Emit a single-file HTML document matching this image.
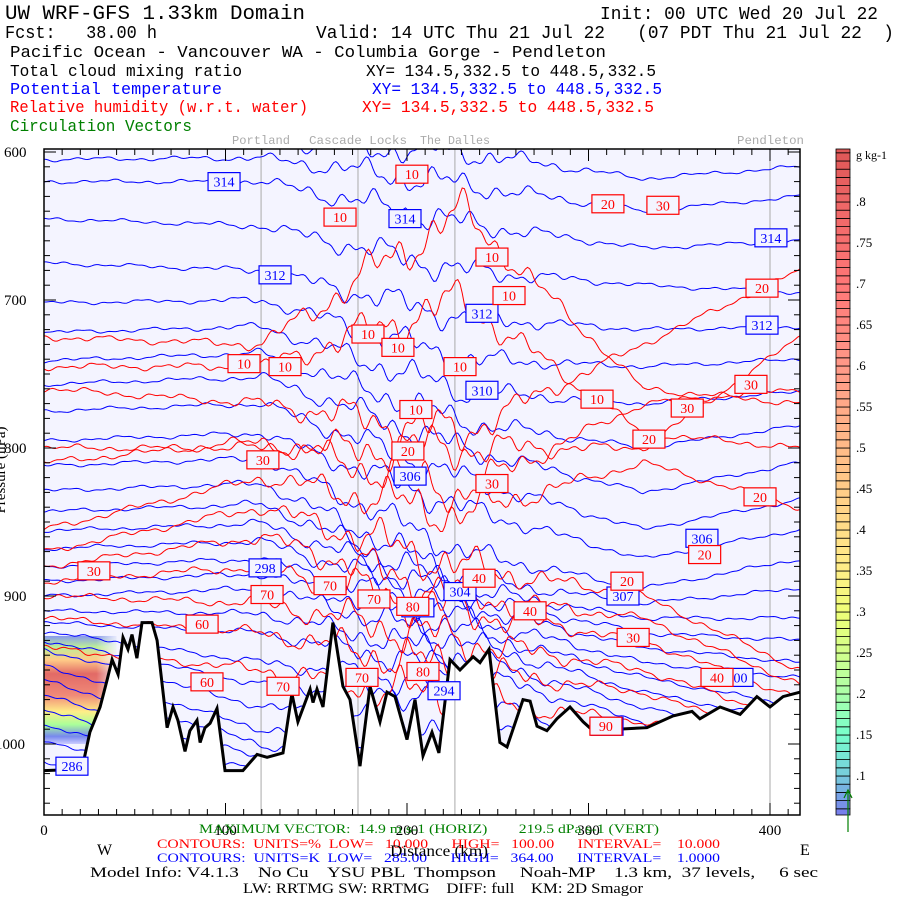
<!DOCTYPE html>
<html><head><meta charset="utf-8"><style>
html,body{margin:0;padding:0;background:#fff;}
svg{display:block;}
text{white-space:pre;}
</style></head><body>
<svg id="chart" width="900" height="900" viewBox="0 0 900 900" xmlns="http://www.w3.org/2000/svg" font-family="'Liberation Mono', monospace">
<defs>
<linearGradient id="cloudGrad" x1="0" y1="0" x2="0" y2="1">
<stop offset="0" stop-color="#8899ee"/><stop offset="0.1" stop-color="#bbee99"/>
<stop offset="0.22" stop-color="#ffcc88"/><stop offset="0.35" stop-color="#e26a66"/>
<stop offset="0.55" stop-color="#f08a78"/><stop offset="0.7" stop-color="#ffee88"/>
<stop offset="0.82" stop-color="#aaff99"/><stop offset="0.93" stop-color="#7788ee"/>
<stop offset="1" stop-color="#ccccff"/></linearGradient>
<linearGradient id="cloudFade" x1="0" y1="0" x2="1" y2="0">
<stop offset="0" stop-color="#fff" stop-opacity="1"/><stop offset="0.7" stop-color="#fff" stop-opacity="1"/><stop offset="1" stop-color="#fff" stop-opacity="0"/></linearGradient>
<mask id="cloudMask"><rect x="44" y="600" width="75" height="160" fill="url(#cloudFade)"/></mask>
<clipPath id="sky"><path id="skyPath" d="M44,149 L800,149 L800,815 L44,815 Z"/></clipPath>
</defs>
<g>
<text x="5" y="19" font-size="20" textLength="300" lengthAdjust="spacingAndGlyphs">UW WRF-GFS 1.33km Domain</text>
<text x="600" y="19" font-size="18" textLength="278" lengthAdjust="spacingAndGlyphs">Init: 00 UTC Wed 20 Jul 22</text>
<text x="5" y="38" font-size="18" textLength="152" lengthAdjust="spacingAndGlyphs">Fcst:   38.00 h</text>
<text x="316" y="38" font-size="18" textLength="578" lengthAdjust="spacingAndGlyphs">Valid: 14 UTC Thu 21 Jul 22   (07 PDT Thu 21 Jul 22  )</text>
<text x="10" y="57" font-size="17" textLength="596" lengthAdjust="spacingAndGlyphs">Pacific Ocean - Vancouver WA - Columbia Gorge - Pendleton</text>
<text x="10" y="76" font-size="17" textLength="232" lengthAdjust="spacingAndGlyphs">Total cloud mixing ratio</text>
<text x="366" y="76" font-size="17" textLength="290" lengthAdjust="spacingAndGlyphs">XY= 134.5,332.5 to 448.5,332.5</text>
<text x="10" y="94" font-size="17" fill="#0000ff" textLength="212" lengthAdjust="spacingAndGlyphs">Potential temperature</text>
<text x="372" y="94" font-size="17" fill="#0000ff" textLength="290" lengthAdjust="spacingAndGlyphs">XY= 134.5,332.5 to 448.5,332.5</text>
<text x="10" y="112" font-size="17" fill="#ff0000" textLength="298" lengthAdjust="spacingAndGlyphs">Relative humidity (w.r.t. water)</text>
<text x="362" y="112" font-size="17" fill="#ff0000" textLength="292" lengthAdjust="spacingAndGlyphs">XY= 134.5,332.5 to 448.5,332.5</text>
<text x="10" y="131" font-size="17" fill="#008000" textLength="182" lengthAdjust="spacingAndGlyphs">Circulation Vectors</text>
</g>
<g fill="#aaaaaa" font-size="12">
<text x="232" y="144" textLength="58" lengthAdjust="spacingAndGlyphs">Portland</text>
<text x="309" y="144" textLength="98" lengthAdjust="spacingAndGlyphs">Cascade Locks</text>
<text x="420" y="144" textLength="70" lengthAdjust="spacingAndGlyphs">The Dalles</text>
<text x="737" y="144" textLength="67" lengthAdjust="spacingAndGlyphs">Pendleton</text>
</g>
<rect x="44" y="149" width="756" height="666" fill="#f4f4ff"/>
<path id="ground" fill="#ffffff"/>
<g id="cloud" clip-path="url(#sky)"></g>
<g id="gray"></g>
<g id="contours" clip-path="url(#sky)" fill="none"></g>
<path id="terrainLine" fill="none" stroke="#000" stroke-width="3"/>
<g id="labels" font-family="'Liberation Serif', serif" font-size="14" text-anchor="middle"></g>
<g id="axes" font-family="'Liberation Serif', serif"></g>
<g id="cbar" font-family="'Liberation Serif', serif"></g>
<g font-family="'Liberation Serif', serif" font-size="13">
<text x="199" y="833" fill="#008000" textLength="460" lengthAdjust="spacingAndGlyphs">MAXIMUM VECTOR:  14.9 m s-1 (HORIZ)        219.5 dPa s-1 (VERT)</text>
<text x="157" y="848" fill="#ff0000" textLength="563" lengthAdjust="spacingAndGlyphs">CONTOURS:  UNITS=%  LOW=   10.000      HIGH=   100.00      INTERVAL=    10.000</text>
<text x="157" y="862" fill="#0000ff" textLength="563" lengthAdjust="spacingAndGlyphs">CONTOURS:  UNITS=K  LOW=   285.00      HIGH=   364.00      INTERVAL=    1.0000</text>
<text x="390" y="856" font-size="16" textLength="98" lengthAdjust="spacingAndGlyphs">Distance (km)</text>
<text x="97" y="855" font-size="16">W</text>
<text x="800" y="855" font-size="16">E</text>
<text x="90" y="877" font-size="15" textLength="728" lengthAdjust="spacingAndGlyphs">Model Info: V4.1.3    No Cu    YSU PBL  Thompson     Noah-MP    1.3 km,  37 levels,     6 sec</text>
<text x="243" y="893" font-size="15" textLength="400" lengthAdjust="spacingAndGlyphs">LW: RRTMG SW: RRTMG    DIFF: full    KM: 2D Smagor</text>
</g>
</svg>
<script>
// ---- data ----
var terrainKm = [0,20.9,25.3,30.9,34.7,37.5,40.8,43.5,46.3,48.5,51.2,54.0,59.5,62.3,67.8,71.1,73.8,77.7,80.4,84.3,86.0,88.7,91.5,95.3,99.7,109.6,117.4,122.9,131.7,136.6,139.9,146.6,148.2,150.4,153.7,159.2,164.7,168.6,174.1,179.6,185.1,189.0,193.4,200.0,204.4,208.8,213.8,217.6,223.7,229.2,236.4,240.2,245.2,251.2,255.1,263.9,267.8,271.6,277.1,282.6,289.8,297.0,302.5,315.7,332.2,346.6,357.0,361.4,372.5,383.5,392.8,400.0,407.2,416.5];
var terrainHPa = [1018,1017,992,975,957,943,953,928,936,926,942,918,918,930,989,975,984,1005,991,984,999,989,986,976,1018,1018,1007,1009,1006,966,985,963,972,963,975,918,961,970,1015,961,985,965,968,997,970,1008,992,1006,943,950,941,945,936,999,1002,970,971,988,991,983,975,985,991,990,989,981,978,983,975,980,968,975,968,965];
var nodeKm = [0,120,230,330,416.5];
var thetaLevels = [286,287,288,289,290,291,292,293,294,295,296,297,298,299,300,301,302,303,304,305,306,307,308,309,310,311,312,313,314,315,316];
var thetaP0   = [1012,997,987,977,967,957,947,936,930,924,918,910,900,890,880,868,856,843,829,812,795,775,757,741,722,702,675,645,620,605,595];
var thetaP120 = [1040,1040,1030,1020,1010,1000,990,975,960,945,925,912,895,885,875,863,851,838,824,807,790,770,752,736,718,700,680,650,620,604,594];
var thetaP230 = [1040,1040,1040,1040,1040,1030,1010,990,968,960,950,940,930,922,914,906,900,895,888,870,840,820,800,782,762,740,712,680,648,622,600];
var thetaP330 = [1040,1040,1040,1040,1040,1040,1040,1040,1040,1020,985,975,965,955,945,935,925,915,905,895,875,855,830,800,770,745,720,690,665,640,618];
var thetaP416 = [1040,1040,1040,1040,1040,1040,1040,1040,1040,1040,1040,1000,985,975,955,945,930,915,895,875,855,835,810,785,762,740,718,695,660,630,610];
var rhLevels = [10,10,20,20,30,30,40,50,60,70,80,90];
var rhP0   = [725,745,760,800,810,855,870,880,890,900,915,935];
var rhP120 = [730,745,770,800,795,820,840,860,880,905,925,950];
var rhP230 = [640,700,790,800,830,845,880,900,910,930,950,970];
var rhP330 = [760,790,730,800,770,810,900,915,930,950,965,985];
var rhP416 = [770,800,680,725,760,840,950,960,970,985,1000,1005];
var redLabelText = ["10","10","10","10","10","10","10","10","10","10","10","20","20","20","20","20","20","20","30","30","30","30","30","30","30","40","40","40","60","60","70","70","70","70","70","80","80","90"];
var redLabelKm = [202.7,163.1,246.8,256.2,178.5,195.0,110.2,132.8,229.2,204.9,304.7,310.7,395.6,333.3,200.5,394.5,364.0,321.2,341.0,120.6,246.8,389.5,354.4,27.5,324.6,239.7,267.8,370.8,87.1,89.8,122.9,157.6,131.7,175.2,181.8,203.2,208.8,309.6];
var redLabelHPa = [615,644,671,697,723,732,743,745,745,774,767,635,692,794,802,833,872,890,636,808,824,757,773,883,928,888,910,955,919,958,899,893,961,955,902,907,951,988];
var blueLabelText = ["314","314","314","312","312","312","310","306","306","298","304","302","294","300","286","307","296"];
var blueLabelKm = [99.2,198.9,400.5,127.3,241.3,395.6,241.3,201.7,362.5,121.8,229.2,206.0,220.4,381.8,15.4,319.0,310.2];
var blueLabelHPa = [620,645,658,683,709,717,761,819,861,881,897,908,964,955,1015,900,988];
var pTicks = [600,700,800,900,1000];
var kmTicks = [0,100,200,300,400];
var locKm = [119.6,173.0,226.4,400.0];
var cbarLabels = [".8",".75",".7",".65",".6",".55",".5",".45",".4",".35",".3",".25",".2",".15",".1"];
var cbarValues = [0.8,0.75,0.7,0.65,0.6,0.55,0.5,0.45,0.4,0.35,0.3,0.25,0.2,0.15,0.1];
// ---- scales ----
function xs(k){ return 44 + k*1.815; }
function ys(p){ return 152 + (p-600)*1.48; }
var NS = "http://www.w3.org/2000/svg";
function mk(tag, attrs, parent){var e=document.createElementNS(NS,tag);for(var a in attrs){e.setAttribute(a,String(attrs[a]));}parent.appendChild(e);return e;}
function interp(k, vals){for(var i=0;i<nodeKm.length-1;i++){if(k<=nodeKm[i+1]){var t=(k-nodeKm[i])/(nodeKm[i+1]-nodeKm[i]);return vals[i]+(vals[i+1]-vals[i])*t;}}return vals[vals.length-1];}
// terrain
var tp = terrainKm.map(function(k,i){return xs(k).toFixed(1)+","+ys(terrainHPa[i]).toFixed(1);});
document.getElementById("terrainLine").setAttribute("d","M"+tp.join(" L"));
document.getElementById("ground").setAttribute("d","M"+tp.join(" L")+" L800,815 L44,815 Z");
document.getElementById("skyPath").setAttribute("d","M44,149 L800,149 L"+tp.slice().reverse().join(" L")+" Z");
// cloud
var cg=document.getElementById("cloud");
var cr=mk("rect",{x:xs(0),y:ys(927),width:xs(40)-xs(0),height:ys(1000)-ys(927),fill:"url(#cloudGrad)",mask:"url(#cloudMask)"},cg);


// gray location lines
var gg=document.getElementById("gray");
locKm.forEach(function(k){var l=mk("line",{x1:xs(k),x2:xs(k),y1:149,y2:815,stroke:"#aaaaaa","stroke-width":1},gg);

});
// contours
var cgp=document.getElementById("contours");
function wig(k,i,amp){var env=1.5+9*Math.exp(-Math.pow((k-205)/65,2));return amp*env*(0.6*Math.sin(k*0.35+i*1.7)+0.8*Math.sin(k*0.13+i*0.9)+0.4*Math.sin(k*0.71+i*2.3));}
function drawSet(levels,p0,p1,p2,p3,p4,color,amp,name){
 levels.forEach(function(lv,i){var vals=[p0[i],p1[i],p2[i],p3[i],p4[i]];var d="";
  for(var k=0;k<=416.5;k+=1.2){var y=ys(interp(k,vals))+wig(k,i+(amp>1?7:0),amp);d+=(k===0?"M":" L")+xs(k).toFixed(1)+","+y.toFixed(1);}
  var p=mk("path",{d:d,stroke:color,"stroke-width":1},cgp);
  
  });
}
drawSet(thetaLevels,thetaP0,thetaP120,thetaP230,thetaP330,thetaP416,"#0000ff",1,"theta-contour");
drawSet(rhLevels,rhP0,rhP120,rhP230,rhP330,rhP416,"#ff0000",1.6,"rh-contour");
// labels
var lg=document.getElementById("labels");
function lab(t,k,p,color,name){var x=xs(k),y=ys(p);
 var r=mk("rect",{x:x-16,y:y-9,width:32,height:18,fill:"#f4f4ff",stroke:color,"stroke-width":1.2},lg);
 
 
 var tx=mk("text",{x:x,y:y+5,fill:color},lg);tx.textContent=t;
 
 }
blueLabelText.forEach(function(t,i){lab(t,blueLabelKm[i],blueLabelHPa[i],"#0000ff","theta-label");});
redLabelText.forEach(function(t,i){lab(t,redLabelKm[i],redLabelHPa[i],"#ff0000","rh-label");});
// axes
var ag=document.getElementById("axes");
var frame=mk("rect",{x:44,y:149,width:756,height:666,fill:"none",stroke:"#000","stroke-width":1.5},ag);


for(var p=600;p<=1045;p+=10){var y=ys(p);var L=(p%100===0)?12:6;
 var a=mk("line",{x1:44,x2:44+L,y1:y,y2:y,stroke:"#000"},ag);
 
 
 var b=mk("line",{x1:800,x2:800-L,y1:y,y2:y,stroke:"#000"},ag);
 
 }
for(var k=0;k<=416;k+=10){var x=xs(k);var L2=(k%100===0)?12:6;
 var a2=mk("line",{x1:x,x2:x,y1:815,y2:815-L2,stroke:"#000"},ag);
 
 
 var b2=mk("line",{x1:x,x2:x,y1:149,y2:149+L2,stroke:"#000"},ag);
 
 }
pTicks.forEach(function(p){var t=mk("text",{x:(p>=1000?-5:4),y:ys(p)+5,"font-size":15},ag);t.textContent=String(p);
 
 });
kmTicks.forEach(function(k){var t=mk("text",{x:xs(k),y:835,"font-size":15,"text-anchor":"middle"},ag);t.textContent=String(k);
 
 });
var yt=mk("text",{x:0,y:0,"font-size":15,transform:"translate(5,470) rotate(-90)","text-anchor":"middle"},ag);yt.textContent="Pressure (hPa)";


// colorbar
var cb=document.getElementById("cbar");
var stops=[[0.05,[119,119,238]],[0.1,[119,204,221]],[0.15,[119,255,204]],[0.2,[170,255,170]],[0.25,[210,255,140]],[0.3,[238,255,119]],[0.35,[255,238,136]],[0.4,[255,221,136]],[0.5,[255,187,136]],[0.6,[255,153,136]],[0.7,[255,119,119]],[0.8,[238,102,102]],[0.87,[221,85,85]]];
function ccol(v){for(var i=0;i<stops.length-1;i++){if(v<=stops[i+1][0]){var t=(v-stops[i][0])/(stops[i+1][0]-stops[i][0]);var c=stops[i][1].map(function(a,j){return Math.round(a+(stops[i+1][1][j]-a)*t);});return "rgb("+c.join(",")+")";}}return "rgb(221,85,85)";}
function cy(v){ return 776-(v-0.1)*820; }
for(var v=0.05;v<0.865;v+=0.01){var y1=cy(v+0.01),y0=cy(v);
 var r=mk("rect",{x:836,y:Math.max(149,y1),width:14,height:Math.min(815,y0)-Math.max(149,y1),fill:ccol(v+0.005),stroke:"#000","stroke-width":0.8},cb);
 
 }
cbarLabels.forEach(function(t,i){var tx=mk("text",{x:856,y:cy(cbarValues[i])+4,"font-size":13},cb);tx.textContent=t;
 
 });
var un=mk("text",{x:856,y:159,"font-size":12},cb);un.textContent="g kg-1";


var ar=mk("path",{d:"M848,832 L848,792 M844,798 L848,790 L852,798",stroke:"#008000","stroke-width":1.2,fill:"none"},cb);


</script>
</body></html>
